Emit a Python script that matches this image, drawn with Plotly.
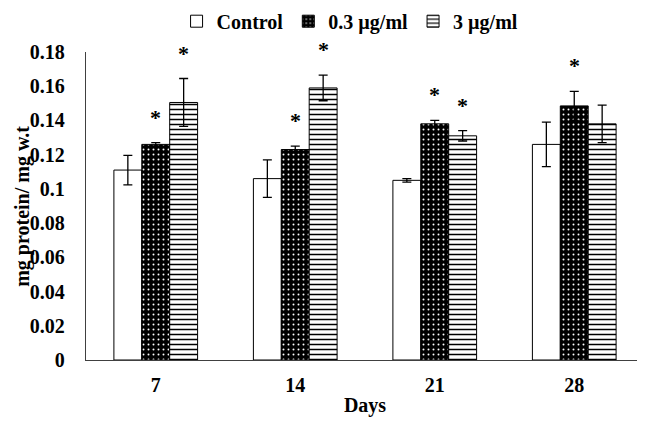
import plotly.graph_objects as go

days = ["7", "14", "21", "28"]
series_names = ["Control", "0.3 µg/ml", "3 µg/ml"]
control = [0.111, 0.106, 0.105, 0.126]
control_err = [0.0086, 0.011, 0.001, 0.013]
low = [0.126, 0.123, 0.138, 0.1485]
low_err = [0.001, 0.002, 0.002, 0.0085]
high = [0.1505, 0.159, 0.131, 0.138]
high_err = [0.014, 0.0075, 0.003, 0.011]
# significance markers (*) per series per day
low_sig = [True, True, True, True]
high_sig = [True, True, True, False]

FONT = "Liberation Serif"

fig = go.Figure()
styles = [
    dict(color="white", pattern=dict(shape="")),
    dict(color="black", pattern=dict(shape=".", fgcolor="white", bgcolor="black",
                                     size=5, solidity=0.12, fillmode="replace")),
    dict(color="white", pattern=dict(shape="-", fgcolor="black", bgcolor="white",
                                     size=5, solidity=0.3, fillmode="replace")),
]
for name, vals, errs, st in zip(series_names, [control, low, high],
                                [control_err, low_err, high_err], styles):
    fig.add_trace(go.Bar(
        x=days, y=vals, name=name,
        marker=dict(color=st["color"], pattern=st["pattern"],
                    line=dict(color="black", width=1)),
        error_y=dict(type="data", array=errs, color="black", thickness=1.3, width=4.5),
    ))

offsets = {1: 0.0, 2: 0.2}
for si, (vals, errs, sig) in {1: (low, low_err, low_sig), 2: (high, high_err, high_sig)}.items():
    for i, (v, e, s) in enumerate(zip(vals, errs, sig)):
        if s:
            fig.add_annotation(x=i + offsets[si], y=v + e, xref="x", yref="y",
                               text="<b>*</b>", showarrow=False, yanchor="bottom",
                               yshift=11, font=dict(family=FONT, size=22, color="black"))

# y-axis title as rotated annotation
fig.add_annotation(x=-0.115, y=0.5, xref="paper", yref="paper", textangle=-90,
                   text="<b>mg protein/ mg w.t</b>", showarrow=False,
                   xanchor="center", yanchor="middle",
                   font=dict(family=FONT, size=20, color="black"))

fig.update_layout(
    width=637, height=409,
    margin=dict(l=78, r=1, t=44, b=57, autoexpand=False),
    plot_bgcolor="white", paper_bgcolor="white",
    barmode="group", bargap=0.4, bargroupgap=0,
    font=dict(family=FONT, size=20, color="black"),
    showlegend=True,
    legend=dict(orientation="h", x=0.537, xanchor="center", y=1.10, yanchor="middle",
                yref="paper", xref="container",
                font=dict(family=FONT, size=20, color="black", weight="bold"),
                itemwidth=30, tracegroupgap=0, bgcolor="rgba(0,0,0,0)"),
)
fig.update_xaxes(
    type="category", showline=True, linecolor="#404040", linewidth=1.3,
    ticks="", showgrid=False, automargin=False, ticklabelstandoff=7,
    tickfont=dict(family=FONT, size=20, color="black", weight="bold"),
    title=dict(text="<b>Days</b>", font=dict(family=FONT, size=20, color="black"), standoff=4),
)
fig.update_yaxes(
    range=[0, 0.18], dtick=0.02, showline=True, linecolor="#404040", linewidth=1.3,
    ticks="", showgrid=False, zeroline=False, tickformat="~g", automargin=False,
    tickfont=dict(family=FONT, size=20, color="black", weight="bold"),
    ticklabelstandoff=16,
)
fig.write_html("out.html")
